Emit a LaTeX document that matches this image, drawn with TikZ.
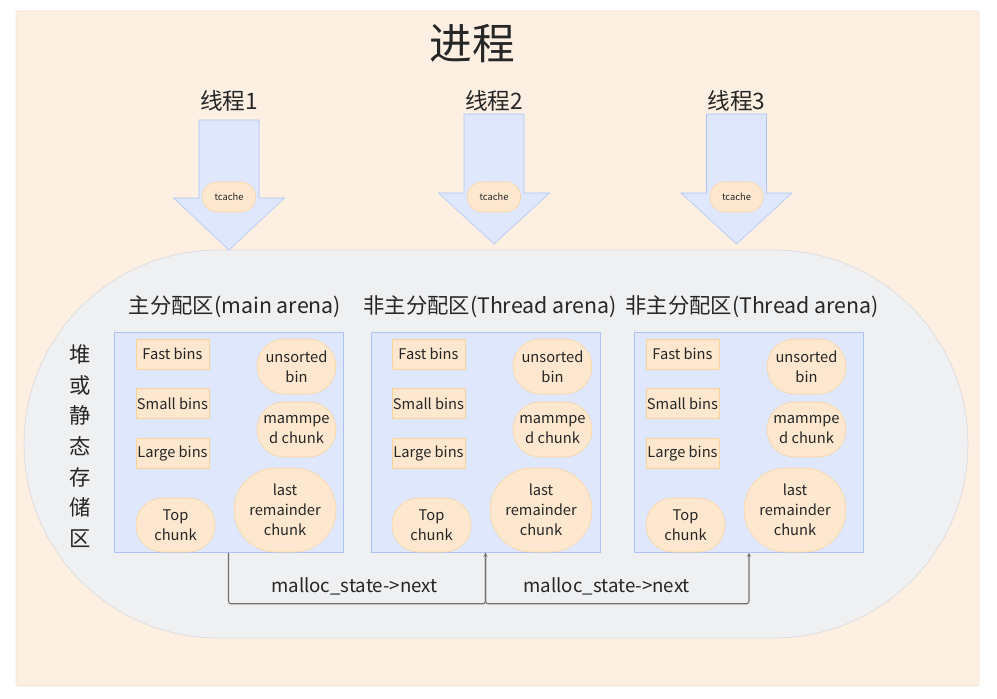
\documentclass[tikz,border=0pt]{standalone}
\usepackage{fontspec}
\setmainfont{Noto Sans CJK SC}
\usetikzlibrary{arrows.meta,positioning}
\definecolor{procbg}{RGB}{253,240,226}
\definecolor{procline}{RGB}{243,226,208}
\definecolor{heapbg}{RGB}{239,240,242}
\definecolor{heapline}{RGB}{214,214,216}
\definecolor{arenabg}{RGB}{223,231,253}
\definecolor{arenaline}{RGB}{172,196,246}
\definecolor{binbg}{RGB}{253,232,207}
\definecolor{binline}{RGB}{249,211,155}
\definecolor{txt}{RGB}{38,38,38}
\definecolor{link}{RGB}{112,112,112}

\begin{document}
\begin{tikzpicture}[x=0.75pt,y=-0.75pt,
    every node/.style={text=txt},
    bin/.style={draw=binline,fill=binbg,inner sep=0pt,minimum width=54.75pt,
        minimum height=22.5pt,font=\fontsize{11}{15}\selectfont,align=center},
    blob/.style={bin,minimum width=59.25pt,minimum height=41.25pt,rounded corners=20.5pt},
    bigblob/.style={bin,minimum width=76.5pt,minimum height=63pt,rounded corners=31.5pt},
    tcache/.style={bin,minimum width=39.75pt,minimum height=22.5pt,rounded corners=11pt,
        font=\fontsize{7}{8}\selectfont},
    arena/.style={draw=arenaline,fill=arenabg,inner sep=0pt,minimum width=171.75pt,
        minimum height=165pt},
    thread/.style={draw=arenaline,fill=arenabg,line join=miter},
    link/.style={draw=link,line width=0.8pt,rounded corners=2pt},
    linklabel/.style={font=\fontsize{14}{16}\selectfont,above=3pt}]
\useasboundingbox (0,0) rectangle (997,699);
% process and heap background
\draw[procline,fill=procbg,rounded corners=1.5pt] (16,11) rectangle (979,686);
\draw[heapline,fill=heapbg,rounded corners=145.5pt] (24,250) rectangle (968,638);
\node[font=\fontsize{32}{36}\selectfont] (proc) at (472,44) {进程};
\node[font=\fontsize{16}{23}\selectfont,align=center] (heap) at (80,446)
    {堆\\或\\静\\态\\存\\储\\区};
% threads
\foreach \i/\tx/\top/\base/\tip in {1/229/120/198/250,2/494/114/193/244,3/736.5/114/193/244}{
    \draw[thread] (\tx-30,\top) -- (\tx+30,\top) -- (\tx+30,\base) -- (\tx+55.5,\base)
        -- (\tx,\tip) -- (\tx-55.5,\base) -- (\tx-30,\base) -- cycle;
    \node[font=\fontsize{17}{20}\selectfont] (thr\i) at (\tx,101) {线程\i};
    \node[tcache] (tc\i) at (\tx,197) {tcache};
}
% arenas
\foreach \i/\bx/\cx/\lx/\title in {1/228.5/136/235/主分配区(main arena),
        2/485.5/392/490/非主分配区(Thread arena),3/749/646/752/非主分配区(Thread arena)}{
    \node[font=\fontsize{16}{20}\selectfont] (lbl\i) at (\lx,307) {\title};
    \node[arena] (arena\i) at (\bx,442.5) {};
    \node[bin] (fast\i) at (\cx+36.5,354) {Fast bins};
    \node[bin,below=14.25pt of fast\i] (small\i) {Small bins};
    \node[bin,below=14.25pt of small\i] (large\i) {Large bins};
    \node[blob,minimum height=40.5pt,rounded corners=20pt] (top\i) at (\cx+39.5,525) {Top\\chunk};
    \node[blob] (unsorted\i) at (\cx+160.5,366.5) {unsorted\\bin};
    \node[blob] (mmap\i) at (\cx+160.5,429.5) {mammpe\\d chunk};
    \node[bigblob] (last\i) at (\cx+149,510) {last\\remainder\\chunk};
}
% next pointers
\path[link,-{Stealth[length=3pt,width=3pt]}]
    (arena1.south) -- ++(0,51) -| node[linklabel,pos=0.245] {malloc\_state->next} (arena2.south);
\path[link,-{Stealth[length=3pt,width=3pt]}]
    (arena2.south) -- ++(0,51) -| node[linklabel,pos=0.23] {malloc\_state->next} (arena3.south);
\end{tikzpicture}
\end{document}
